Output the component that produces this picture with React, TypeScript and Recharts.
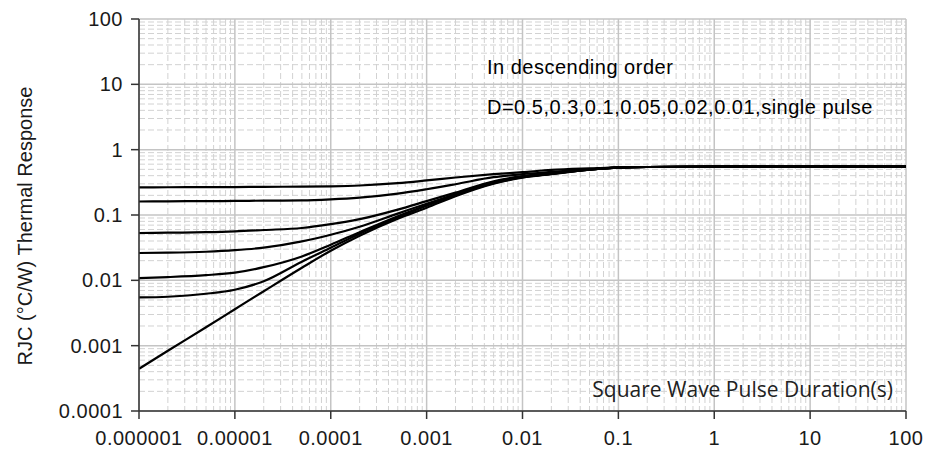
import { CartesianGrid, Customized, Line, LineChart, XAxis, YAxis } from "recharts";

const W = 927;
const H = 452;
const INK = "#1a1a1a";
const MAJOR = "#c4c4c4";
const MINOR = "#d2d2d2";
const FONT = "Arial, 'Liberation Sans', sans-serif";

// pulse duration (s)
const DURATION = [
  1e-6, 2e-6, 5e-6, 1e-5, 2e-5, 5e-5, 1e-4, 2e-4, 5e-4, 1e-3, 2e-3, 5e-3, 1e-2, 2e-2, 5e-2, 0.1, 0.2, 1, 10, 100,
];

// thermal response per duty cycle
const D05 = [
  0.265, 0.266, 0.267, 0.268, 0.27, 0.271, 0.275, 0.283, 0.307, 0.338, 0.375, 0.421, 0.452, 0.489, 0.517, 0.534,
  0.543, 0.549, 0.549, 0.549,
];
const D03 = [
  0.161, 0.162, 0.163, 0.164, 0.166, 0.167, 0.173, 0.184, 0.212, 0.248, 0.296, 0.379, 0.421, 0.456, 0.503, 0.53,
  0.543, 0.549, 0.549, 0.549,
];
const D01 = [
  0.053, 0.0536, 0.0545, 0.0561, 0.0589, 0.0632, 0.0723, 0.0863, 0.121, 0.163, 0.22, 0.329, 0.393, 0.437, 0.497,
  0.53, 0.543, 0.549, 0.549, 0.549,
];
const D005 = [
  0.0262, 0.0265, 0.0274, 0.0289, 0.0316, 0.0394, 0.0499, 0.0662, 0.105, 0.149, 0.208, 0.318, 0.386, 0.432, 0.494,
  0.53, 0.543, 0.549, 0.549, 0.549,
];
const D002 = [
  0.0108, 0.0112, 0.012, 0.0131, 0.0159, 0.0232, 0.0351, 0.0545, 0.0959, 0.141, 0.205, 0.312, 0.382, 0.429, 0.494,
  0.53, 0.543, 0.549, 0.549, 0.549,
];
const D001 = [
  0.00547, 0.00561, 0.00623, 0.00718, 0.00969, 0.0193, 0.0316, 0.0517, 0.0925, 0.139, 0.201, 0.307, 0.378, 0.426,
  0.494, 0.53, 0.543, 0.549, 0.549, 0.549,
];
const SINGLE = [
  0.000443, 0.000835, 0.00191, 0.00361, 0.00681, 0.0156, 0.0284, 0.0482, 0.0878, 0.129, 0.194, 0.302, 0.373, 0.421,
  0.494, 0.53, 0.543, 0.549, 0.549, 0.549,
];

const X_TICKS = [1e-6, 1e-5, 1e-4, 1e-3, 1e-2, 0.1, 1, 10, 100];
const X_LABELS = ["0.000001", "0.00001", "0.0001", "0.001", "0.01", "0.1", "1", "10", "100"];
const Y_TICKS = [1e-4, 1e-3, 1e-2, 0.1, 1, 10, 100];
const Y_LABELS = ["0.0001", "0.001", "0.01", "0.1", "1", "10", "100"];

const SERIES = ["d05", "d03", "d01", "d005", "d002", "d001", "single"];

const data = DURATION.map((x, i) => ({
  x,
  d05: D05[i],
  d03: D03[i],
  d01: D01[i],
  d005: D005[i],
  d002: D002[i],
  d001: D001[i],
  single: SINGLE[i],
}));

// 2..9 inside each decade
const minorsOf = (majors: number[]) =>
  majors.slice(0, -1).flatMap((m) => [2, 3, 4, 5, 6, 7, 8, 9].map((k) => m * k));

const X_MINOR = minorsOf(X_TICKS);
const Y_MINOR = minorsOf(Y_TICKS);

const tickStyle = { fontSize: 20, fill: INK, fontFamily: FONT, letterSpacing: 0.5 };

function Notes() {
  return (
    <g fontFamily={FONT} fill="#000">
      <text x={487} y={74} fontSize={20} letterSpacing={0.5}>
        In descending order
      </text>
      <text x={487} y={114} fontSize={20} letterSpacing={0.5}>
        D=0.5,0.3,0.1,0.05,0.02,0.01,single pulse
      </text>
      <text
        x={893}
        y={397}
        fontSize={21}
        textAnchor="end"
        fill="#222"
        fontFamily="'Open Sans', 'Noto Sans', sans-serif"
      >
        Square Wave Pulse Duration(s)
      </text>
      <text
        x={25}
        y={226}
        fontSize={20}
        fill={INK}
        textAnchor="middle"
        dominantBaseline="central"
        transform="rotate(-90 25 226)"
      >
        RJC (°C/W) Thermal Response
      </text>
    </g>
  );
}

export default function App() {
  return (
    <div style={{ position: "absolute", left: 0, top: 0, width: W, height: H, background: "#fff" }}>
      <LineChart width={W} height={H} data={data} margin={{ top: 19, right: 21, bottom: 0, left: 0 }}>
        <CartesianGrid
          stroke={MINOR}
          strokeDasharray="6 3"
          horizontalValues={Y_MINOR}
          verticalValues={X_MINOR}
        />
        <CartesianGrid stroke={MAJOR} strokeWidth={1.5} horizontalValues={Y_TICKS} verticalValues={X_TICKS} />
        <XAxis
          dataKey="x"
          type="number"
          scale="log"
          domain={[1e-6, 100]}
          ticks={X_TICKS}
          allowDataOverflow
          height={41}
          tickSize={8}
          tickMargin={12}
          tick={tickStyle}
          tickFormatter={(_v: number, i: number) => X_LABELS[i]}
          axisLine={{ stroke: "#333", strokeWidth: 1.5 }}
          tickLine={{ stroke: "#333", strokeWidth: 1.5 }}
          interval={0}
        />
        <YAxis
          type="number"
          scale="log"
          domain={[1e-4, 100]}
          ticks={Y_TICKS}
          allowDataOverflow
          width={139}
          tickSize={8}
          tickMargin={8}
          tick={tickStyle}
          tickFormatter={(_v: number, i: number) => Y_LABELS[i]}
          axisLine={{ stroke: "#333", strokeWidth: 1.5 }}
          tickLine={{ stroke: "#333", strokeWidth: 1.5 }}
          interval={0}
        />
        {SERIES.map((k) => (
          <Line
            key={k}
            type="monotone"
            dataKey={k}
            stroke="#000"
            strokeWidth={2.2}
            dot={false}
            isAnimationActive={false}
          />
        ))}
        <Customized component={Notes} />
      </LineChart>
    </div>
  );
}
